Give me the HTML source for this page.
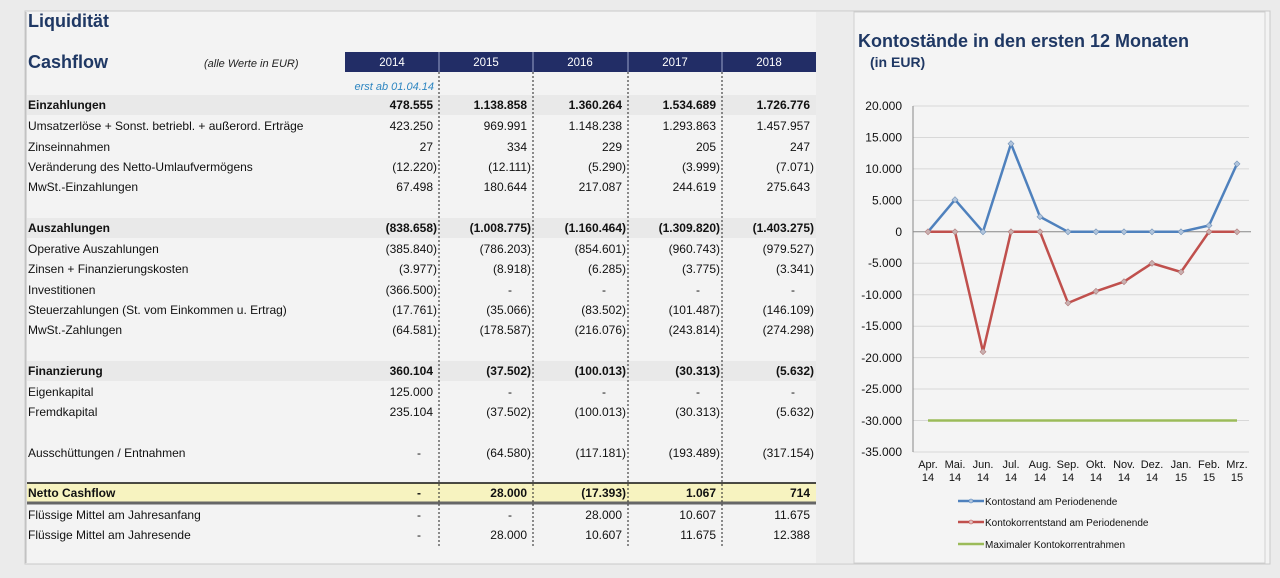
<!DOCTYPE html>
<html><head><meta charset="utf-8"><style>
html,body{margin:0;padding:0;background:#ebebeb;}
svg{display:block;font-family:"Liberation Sans",Arial,sans-serif;}
</style></head><body>
<svg width="1280" height="578" viewBox="0 0 1280 578" xmlns="http://www.w3.org/2000/svg">
<rect x="0" y="0" width="1280" height="578" fill="#ebebeb"/>
<rect x="25" y="11" width="1245" height="553" fill="#f3f3f3" stroke="#c8c8c8"/>
<rect x="816" y="12" width="38" height="551" fill="#ececec"/>
<rect x="854" y="12" width="411" height="551" fill="#f4f4f4" stroke="#d0d0d0"/>
<line x1="26" y1="12" x2="26" y2="563" stroke="#bbb"/>
<!-- titles -->
<text x="28" y="27" font-size="18" font-weight="bold" fill="#1f3864">Liquidität</text>
<text x="28" y="68" font-size="18" font-weight="bold" fill="#1f3864">Cashflow</text>
<text x="204" y="67" font-size="11" font-style="italic" fill="#222">(alle Werte in EUR)</text>
<!-- header -->
<rect x="345" y="52" width="471" height="20" fill="#222d66"/>
<g fill="#fff" font-size="11.5" text-anchor="middle">
<text x="392" y="66">2014</text><text x="486" y="66">2015</text><text x="580" y="66">2016</text><text x="675" y="66">2017</text><text x="769" y="66">2018</text>
</g>
<g stroke="#9aa4c8" stroke-width="1"><line x1="439" y1="52" x2="439" y2="72"/><line x1="533" y1="52" x2="533" y2="72"/><line x1="628" y1="52" x2="628" y2="72"/><line x1="722" y1="52" x2="722" y2="72"/></g>
<text x="434" y="90" font-size="11" font-style="italic" fill="#2e86c1" text-anchor="end">erst ab 01.04.14</text>
<!-- bands -->
<rect x="27" y="95" width="789" height="20" fill="#e9e9e9"/>
<rect x="27" y="218" width="789" height="20" fill="#e9e9e9"/>
<rect x="27" y="361" width="789" height="20" fill="#e9e9e9"/>
<rect x="27" y="483" width="789" height="20" fill="#f7f3c0"/>
<line x1="27" y1="483" x2="816" y2="483" stroke="#111" stroke-width="1.5"/>
<line x1="27" y1="503" x2="816" y2="503" stroke="#666" stroke-width="3"/>
<!-- dotted -->
<g stroke="#222" stroke-width="1" stroke-dasharray="2,2"><line x1="439" y1="72" x2="439" y2="546"/><line x1="533" y1="72" x2="533" y2="546"/><line x1="628" y1="72" x2="628" y2="546"/><line x1="722" y1="72" x2="722" y2="546"/></g>
<!-- labels -->
<g font-size="12" fill="#111">
<text x="28" y="109" font-weight="bold">Einzahlungen</text>
<text x="28" y="130">Umsatzerlöse + Sonst. betriebl. + außerord. Erträge</text>
<text x="28" y="151">Zinseinnahmen</text>
<text x="28" y="171">Veränderung des Netto-Umlaufvermögens</text>
<text x="28" y="191">MwSt.-Einzahlungen</text>
<text x="28" y="232" font-weight="bold">Auszahlungen</text>
<text x="28" y="253">Operative Auszahlungen</text>
<text x="28" y="273">Zinsen + Finanzierungskosten</text>
<text x="28" y="294">Investitionen</text>
<text x="28" y="314">Steuerzahlungen (St. vom Einkommen u. Ertrag)</text>
<text x="28" y="334">MwSt.-Zahlungen</text>
<text x="28" y="375" font-weight="bold">Finanzierung</text>
<text x="28" y="396">Eigenkapital</text>
<text x="28" y="416">Fremdkapital</text>
<text x="28" y="457">Ausschüttungen / Entnahmen</text>
<text x="28" y="497" font-weight="bold">Netto Cashflow</text>
<text x="28" y="519">Flüssige Mittel am Jahresanfang</text>
<text x="28" y="539">Flüssige Mittel am Jahresende</text>
</g>
<!-- values -->
<g font-size="12" fill="#111" text-anchor="end">
<g font-weight="bold"><text x="433" y="109">478.555</text><text x="527" y="109">1.138.858</text><text x="622" y="109">1.360.264</text><text x="716" y="109">1.534.689</text><text x="810" y="109">1.726.776</text></g>
<text x="433" y="130">423.250</text><text x="527" y="130">969.991</text><text x="622" y="130">1.148.238</text><text x="716" y="130">1.293.863</text><text x="810" y="130">1.457.957</text>
<text x="433" y="151">27</text><text x="527" y="151">334</text><text x="622" y="151">229</text><text x="716" y="151">205</text><text x="810" y="151">247</text>
<text x="437" y="171">(12.220)</text><text x="531" y="171">(12.111)</text><text x="626" y="171">(5.290)</text><text x="720" y="171">(3.999)</text><text x="814" y="171">(7.071)</text>
<text x="433" y="191">67.498</text><text x="527" y="191">180.644</text><text x="622" y="191">217.087</text><text x="716" y="191">244.619</text><text x="810" y="191">275.643</text>
<g font-weight="bold"><text x="437" y="232">(838.658)</text><text x="531" y="232">(1.008.775)</text><text x="626" y="232">(1.160.464)</text><text x="720" y="232">(1.309.820)</text><text x="814" y="232">(1.403.275)</text></g>
<text x="437" y="253">(385.840)</text><text x="531" y="253">(786.203)</text><text x="626" y="253">(854.601)</text><text x="720" y="253">(960.743)</text><text x="814" y="253">(979.527)</text>
<text x="437" y="273">(3.977)</text><text x="531" y="273">(8.918)</text><text x="626" y="273">(6.285)</text><text x="720" y="273">(3.775)</text><text x="814" y="273">(3.341)</text>
<text x="437" y="294">(366.500)</text><text x="512" y="294">-</text><text x="606" y="294">-</text><text x="700" y="294">-</text><text x="795" y="294">-</text>
<text x="437" y="314">(17.761)</text><text x="531" y="314">(35.066)</text><text x="626" y="314">(83.502)</text><text x="720" y="314">(101.487)</text><text x="814" y="314">(146.109)</text>
<text x="437" y="334">(64.581)</text><text x="531" y="334">(178.587)</text><text x="626" y="334">(216.076)</text><text x="720" y="334">(243.814)</text><text x="814" y="334">(274.298)</text>
<g font-weight="bold"><text x="433" y="375">360.104</text><text x="531" y="375">(37.502)</text><text x="626" y="375">(100.013)</text><text x="720" y="375">(30.313)</text><text x="814" y="375">(5.632)</text></g>
<text x="433" y="396">125.000</text><text x="512" y="396">-</text><text x="606" y="396">-</text><text x="700" y="396">-</text><text x="795" y="396">-</text>
<text x="433" y="416">235.104</text><text x="531" y="416">(37.502)</text><text x="626" y="416">(100.013)</text><text x="720" y="416">(30.313)</text><text x="814" y="416">(5.632)</text>
<text x="421" y="457">-</text><text x="531" y="457">(64.580)</text><text x="626" y="457">(117.181)</text><text x="720" y="457">(193.489)</text><text x="814" y="457">(317.154)</text>
<g font-weight="bold"><text x="421" y="497">-</text><text x="527" y="497">28.000</text><text x="626" y="497">(17.393)</text><text x="716" y="497">1.067</text><text x="810" y="497">714</text></g>
<text x="421" y="519">-</text><text x="512" y="519">-</text><text x="622" y="519">28.000</text><text x="716" y="519">10.607</text><text x="810" y="519">11.675</text>
<text x="421" y="539">-</text><text x="527" y="539">28.000</text><text x="622" y="539">10.607</text><text x="716" y="539">11.675</text><text x="810" y="539">12.388</text>
</g>
<!-- chart -->
<text x="858" y="47" font-size="18" font-weight="bold" fill="#1f3864">Kontostände in den ersten 12 Monaten</text>
<text x="870" y="67" font-size="14" font-weight="bold" fill="#1f3864">(in EUR)</text>
<g stroke="#d8d8d8" stroke-width="1">
<line x1="913" y1="106" x2="1249" y2="106"/><line x1="913" y1="137.5" x2="1249" y2="137.5"/><line x1="913" y1="168.9" x2="1249" y2="168.9"/><line x1="913" y1="200.4" x2="1249" y2="200.4"/>
<line x1="913" y1="263.2" x2="1249" y2="263.2"/><line x1="913" y1="294.7" x2="1249" y2="294.7"/><line x1="913" y1="326.2" x2="1249" y2="326.2"/><line x1="913" y1="357.6" x2="1249" y2="357.6"/><line x1="913" y1="389" x2="1249" y2="389"/><line x1="913" y1="420.5" x2="1249" y2="420.5"/><line x1="913" y1="452" x2="1249" y2="452"/>
</g>
<line x1="913" y1="106" x2="913" y2="452" stroke="#888"/>
<line x1="913" y1="231.8" x2="1251" y2="231.8" stroke="#888"/>
<g font-size="12" fill="#111" text-anchor="end">
<text x="902" y="110">20.000</text><text x="902" y="141.5">15.000</text><text x="902" y="173">10.000</text><text x="902" y="204.5">5.000</text><text x="902" y="236">0</text><text x="902" y="267">-5.000</text><text x="902" y="299">-10.000</text><text x="902" y="330">-15.000</text><text x="902" y="362">-20.000</text><text x="902" y="393">-25.000</text><text x="902" y="425">-30.000</text><text x="902" y="456">-35.000</text>
</g>
<g font-size="11" fill="#111" text-anchor="middle">
<text x="928" y="468">Apr.</text><text x="928" y="481">14</text>
<text x="955" y="468">Mai.</text><text x="955" y="481">14</text>
<text x="983" y="468">Jun.</text><text x="983" y="481">14</text>
<text x="1011" y="468">Jul.</text><text x="1011" y="481">14</text>
<text x="1040" y="468">Aug.</text><text x="1040" y="481">14</text>
<text x="1068" y="468">Sep.</text><text x="1068" y="481">14</text>
<text x="1096" y="468">Okt.</text><text x="1096" y="481">14</text>
<text x="1124" y="468">Nov.</text><text x="1124" y="481">14</text>
<text x="1152" y="468">Dez.</text><text x="1152" y="481">14</text>
<text x="1181" y="468">Jan.</text><text x="1181" y="481">15</text>
<text x="1209" y="468">Feb.</text><text x="1209" y="481">15</text>
<text x="1237" y="468">Mrz.</text><text x="1237" y="481">15</text>
</g>
<polyline fill="none" stroke="#9bbb59" stroke-width="2.5" points="928,420.5 1237,420.5"/>
<polyline fill="none" stroke="#c0504d" stroke-width="2.5" points="928,231.8 955,231.8 983,351.7 1011,231.8 1040,231.8 1068,303 1096,291.3 1124,281.7 1152,263.3 1181,272 1209,231.8 1237,231.8"/>
<polyline fill="none" stroke="#4f81bd" stroke-width="2.5" points="928,231.8 955,199.7 983,231.8 1011,143.7 1040,216.7 1068,231.8 1096,231.8 1124,231.8 1152,231.8 1181,231.8 1209,225.5 1237,163.9"/>
<g fill="#c9b0b0" stroke="#b07a7a" stroke-width="0.6">
<path d="M928 228.8l3 3-3 3-3-3z"/><path d="M955 228.8l3 3-3 3-3-3z"/><path d="M983 348.7l3 3-3 3-3-3z"/><path d="M1011 228.8l3 3-3 3-3-3z"/><path d="M1040 228.8l3 3-3 3-3-3z"/><path d="M1068 300l3 3-3 3-3-3z"/><path d="M1096 288.3l3 3-3 3-3-3z"/><path d="M1124 278.7l3 3-3 3-3-3z"/><path d="M1152 260.3l3 3-3 3-3-3z"/><path d="M1181 269l3 3-3 3-3-3z"/><path d="M1209 228.8l3 3-3 3-3-3z"/><path d="M1237 228.8l3 3-3 3-3-3z"/>
</g>
<g fill="#b0c4dc" stroke="#6f8fb5" stroke-width="0.6">
<path d="M955 196.7l3 3-3 3-3-3z"/><path d="M983 228.8l3 3-3 3-3-3z"/><path d="M1011 140.7l3 3-3 3-3-3z"/><path d="M1040 213.7l3 3-3 3-3-3z"/><path d="M1068 228.8l3 3-3 3-3-3z"/><path d="M1096 228.8l3 3-3 3-3-3z"/><path d="M1124 228.8l3 3-3 3-3-3z"/><path d="M1152 228.8l3 3-3 3-3-3z"/><path d="M1181 228.8l3 3-3 3-3-3z"/><path d="M1209 222.5l3 3-3 3-3-3z"/><path d="M1237 160.9l3 3-3 3-3-3z"/>
</g>
<!-- legend -->
<line x1="958" y1="501" x2="984" y2="501" stroke="#4f81bd" stroke-width="2.5"/><circle cx="971" cy="501" r="2" fill="#b0c4dc" stroke="#4f81bd" stroke-width="0.6"/>
<line x1="958" y1="522" x2="984" y2="522" stroke="#c0504d" stroke-width="2.5"/><circle cx="971" cy="522" r="2" fill="#e0c0c0" stroke="#c0504d" stroke-width="0.6"/>
<line x1="958" y1="544" x2="984" y2="544" stroke="#9bbb59" stroke-width="2.5"/>
<g font-size="10" fill="#111">
<text x="985" y="505">Kontostand am Periodenende</text>
<text x="985" y="526">Kontokorrentstand am Periodenende</text>
<text x="985" y="548">Maximaler Kontokorrentrahmen</text>
</g>
</svg>
</body></html>
